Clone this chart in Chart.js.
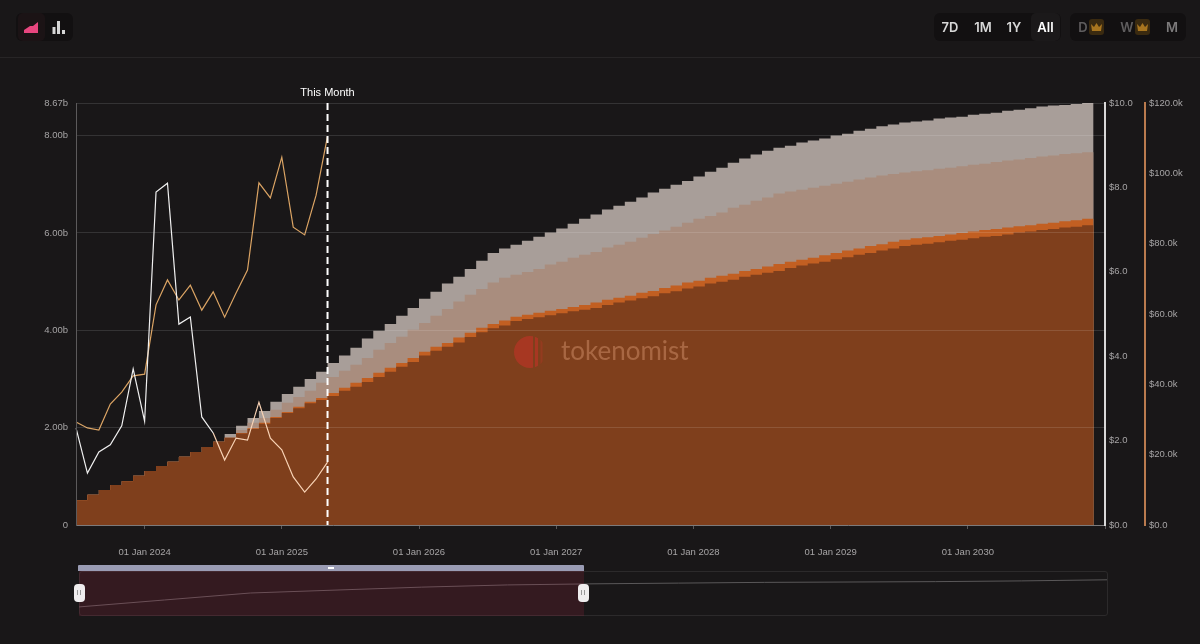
<!DOCTYPE html>
<html>
<head>
<meta charset="utf-8">
<title>Token unlocks</title>
<script src="https://cdn.jsdelivr.net/npm/chart.js@4"></script>
<style>
    html, body { margin: 0; padding: 0; background: #191718; overflow: hidden; }
    body { width: 1200px; height: 644px; position: relative; font-family: "Inter", sans-serif; }
    canvas { position: absolute; display: block; }
    #myChart { left: 0; top: 0; }
    #overview { left: 79px; top: 571px; }
    .divider { position: absolute; left: 0; top: 57px; width: 1200px; height: 1px; background: #272526; }
    .group { position: absolute; top: 13px; height: 28px; background: #121011; border-radius: 6px; }
    .btn { position: absolute; top: 0; height: 28px; line-height: 28px; text-align: center; font-size: 13px; font-weight: 600; color: #d8d8d8; }
    .btn.active { background: #1b191a; border-radius: 5px; color: #fff; }
    .btn.muted { color: #5f5d5e; }
    .crown { position: absolute; top: 6px; width: 15px; height: 16px; background: #3a2a10; border-radius: 3px; }
    .frame { position: absolute; left: 79px; top: 571px; width: 1027px; height: 43px; border: 1px solid #2c2a2b; border-radius: 3px; }
    .selection { position: absolute; left: 79px; top: 571px; width: 505px; height: 45px; background: rgba(190, 40, 80, 0.17); }
    .bar { position: absolute; left: 78px; top: 565px; width: 506px; height: 6px; background: #9a9cb4; border-radius: 1px 1px 0 0; }
    .grip { position: absolute; left: 328px; top: 567px; width: 6px; height: 2px; background: #fff; }
    .handle { position: absolute; top: 584px; width: 11px; height: 18px; background: #efedee; border-radius: 4px; }
    .handle::after { content: ""; position: absolute; left: 3px; top: 6px; width: 1px; height: 5px; background: #999; box-shadow: 3px 0 0 #999; }
</style>
</head>
<body>
<canvas id="myChart" width="1200" height="644"></canvas>
<div class="divider"></div>

<div class="group" style="left:16px;width:57px;">
    <div class="btn active" style="left:2px;width:27px;background:#1b1315;">
        <svg width="17" height="14" viewBox="0 0 17 14" style="position:absolute;left:5px;top:8px;">
            <path d="M1 9 L7 5 L10 5 L15 1 L15 12 L1 12 Z" fill="#e8467f"/>
        </svg>
    </div>
    <svg width="14" height="14" viewBox="0 0 14 14" style="position:absolute;left:36px;top:7px;">
        <rect x="0.5" y="7" width="3" height="7" fill="#d6d6d6"/>
        <rect x="5" y="1" width="3" height="13" fill="#d6d6d6"/>
        <rect x="10" y="10" width="3" height="4" fill="#d6d6d6"/>
    </svg>
</div>

<div class="group" style="left:934px;width:127px;">
    <div class="btn" style="left:1px;width:30px;">7D</div>
    <div class="btn" style="left:34px;width:30px;">1M</div>
    <div class="btn" style="left:65px;width:30px;">1Y</div>
    <div class="btn active" style="left:97px;width:29px;">All</div>
</div>

<div class="group" style="left:1070px;width:116px;">
    <div class="btn muted" style="left:6px;width:14px;">D</div>
    <div class="crown" style="left:19px;">
        <svg width="15" height="16" viewBox="0 0 15 16"><path d="M3 12 L2 5 L5 8 L7.5 4 L10 8 L13 5 L12 12 Z" fill="#a8751f"/></svg>
    </div>
    <div class="btn muted" style="left:49px;width:16px;">W</div>
    <div class="crown" style="left:65px;">
        <svg width="15" height="16" viewBox="0 0 15 16"><path d="M3 12 L2 5 L5 8 L7.5 4 L10 8 L13 5 L12 12 Z" fill="#a8751f"/></svg>
    </div>
    <div class="btn" style="left:94px;width:16px;color:#7c7a7b;">M</div>
</div>

<div class="frame"></div>
<canvas id="overview" width="1028" height="44"></canvas>
<div class="selection"></div>
<div class="bar"></div>
<div class="grip"></div>
<div class="handle" style="left:74px;"></div>
<div class="handle" style="left:578px;"></div>

<script>
// monthly labels, Jul 2023 to Jan 2031 (the last one only closes the final step)
const monthLabels = [];
for (let m = 6; m <= 96; m++) {
    monthLabels.push((2023 + Math.floor(m / 12)) + '-' + String(m % 12 + 1).padStart(2, '0'));
}

// cumulative unlocked supply, billions of tokens, one list per band top
const baseBand = [
    0.51, 0.62, 0.72, 0.82, 0.90, 1.01, 1.11, 1.21, 1.30, 1.40, 1.50, 1.60, 1.71, 1.79, 1.88, 1.97, 2.08, 2.20,
    2.30, 2.40, 2.50, 2.57, 2.65, 2.76, 2.84, 2.94, 3.04, 3.15, 3.25, 3.35, 3.48, 3.58, 3.66, 3.75, 3.86, 3.96,
    4.04, 4.10, 4.19, 4.23, 4.27, 4.31, 4.35, 4.39, 4.42, 4.46, 4.52, 4.57, 4.61, 4.66, 4.70, 4.76, 4.80, 4.86,
    4.90, 4.96, 5.00, 5.04, 5.10, 5.14, 5.18, 5.22, 5.28, 5.33, 5.37, 5.41, 5.46, 5.50, 5.55, 5.59, 5.64, 5.68,
    5.73, 5.76, 5.78, 5.81, 5.84, 5.86, 5.89, 5.92, 5.94, 5.97, 6.01, 6.03, 6.06, 6.08, 6.11, 6.13, 6.16, 6.16
];
const thinBand = [
    0.51, 0.62, 0.72, 0.82, 0.90, 1.01, 1.11, 1.21, 1.30, 1.40, 1.50, 1.60, 1.71, 1.79, 1.89, 1.99, 2.10, 2.22,
    2.32, 2.43, 2.53, 2.61, 2.71, 2.82, 2.92, 3.02, 3.13, 3.23, 3.33, 3.43, 3.56, 3.66, 3.74, 3.85, 3.95, 4.05,
    4.13, 4.20, 4.28, 4.32, 4.36, 4.40, 4.44, 4.48, 4.52, 4.57, 4.63, 4.67, 4.71, 4.77, 4.81, 4.87, 4.92, 4.98,
    5.02, 5.08, 5.12, 5.16, 5.22, 5.26, 5.31, 5.36, 5.41, 5.45, 5.49, 5.54, 5.59, 5.64, 5.68, 5.73, 5.77, 5.82,
    5.86, 5.89, 5.91, 5.94, 5.97, 6.00, 6.03, 6.06, 6.08, 6.11, 6.14, 6.16, 6.19, 6.21, 6.24, 6.26, 6.29, 6.29
];
const midBand = [
    0.51, 0.62, 0.72, 0.82, 0.90, 1.01, 1.11, 1.21, 1.30, 1.40, 1.50, 1.60, 1.71, 1.79, 1.95, 2.10, 2.20, 2.37,
    2.51, 2.63, 2.76, 2.92, 3.04, 3.17, 3.29, 3.43, 3.60, 3.74, 3.87, 4.01, 4.15, 4.30, 4.44, 4.59, 4.73, 4.85,
    4.98, 5.08, 5.14, 5.20, 5.26, 5.35, 5.41, 5.49, 5.55, 5.61, 5.70, 5.76, 5.82, 5.90, 5.98, 6.05, 6.13, 6.21,
    6.29, 6.35, 6.42, 6.52, 6.58, 6.66, 6.73, 6.81, 6.85, 6.89, 6.93, 6.97, 7.01, 7.05, 7.10, 7.14, 7.18, 7.21,
    7.24, 7.27, 7.29, 7.32, 7.34, 7.37, 7.40, 7.42, 7.46, 7.49, 7.51, 7.54, 7.57, 7.59, 7.62, 7.64, 7.66, 7.66
];
const topBand = [
    0.51, 0.62, 0.72, 0.82, 0.90, 1.01, 1.11, 1.21, 1.30, 1.40, 1.50, 1.60, 1.71, 1.87, 2.04, 2.20, 2.34, 2.53,
    2.69, 2.84, 3.00, 3.15, 3.33, 3.48, 3.64, 3.83, 3.99, 4.13, 4.30, 4.46, 4.65, 4.79, 4.96, 5.10, 5.26, 5.43,
    5.59, 5.68, 5.76, 5.84, 5.92, 6.01, 6.09, 6.19, 6.29, 6.38, 6.48, 6.56, 6.64, 6.73, 6.83, 6.91, 6.99, 7.07,
    7.16, 7.26, 7.34, 7.44, 7.53, 7.61, 7.69, 7.75, 7.79, 7.86, 7.90, 7.94, 8.00, 8.04, 8.10, 8.14, 8.19, 8.23,
    8.27, 8.29, 8.31, 8.35, 8.37, 8.39, 8.43, 8.45, 8.47, 8.51, 8.53, 8.56, 8.60, 8.62, 8.63, 8.65, 8.67, 8.67
];

// token price in dollars and reference price in thousands of dollars, up to this month
const tokenPrice = [
    2.30, 1.23, 1.73, 1.90, 2.35, 3.70, 2.46, 7.89, 8.10, 4.76, 4.93, 2.56,
    2.18, 1.54, 2.06, 2.01, 2.91, 2.06, 1.78, 1.14, 0.78, 1.09, 1.49
];
const referencePrice = [
    29.3, 27.6, 27.0, 34.4, 37.8, 42.4, 42.9, 62.6, 69.7, 64.0, 68.2, 61.1,
    66.3, 59.1, 66.0, 72.5, 97.3, 93.0, 104.6, 84.7, 82.5, 93.8, 110.6
];

// long range curve in the strip under the chart
const overviewValues = [2.2, 4.1, 6.0, 6.8, 7.6, 8.2, 8.5, 8.7, 8.9, 9.0, 9.1, 9.3, 9.6];

const supplyTicks = [0, 2, 4, 6, 8, 8.67];
const tokenTicks = [0, 2, 4, 6, 8, 10];
const referenceTicks = [0, 20, 40, 60, 80, 100, 120];
const currentMonth = '2025-05';

const labelFont = { family: '"Liberation Sans", Arial, sans-serif', size: 9.5 };

// fixed tick lists and fixed axis widths so the plot stays where it should
function yAxis(position, max, tickValues, width, padding, format, border, grid) {
    return {
        position: position,
        min: 0,
        max: max,
        border: border,
        grid: grid || { display: false, drawTicks: false },
        afterBuildTicks: axis => { axis.ticks = tickValues.map(v => ({ value: v })); },
        afterFit: axis => { axis.width = width; },
        ticks: { autoSkip: false, font: labelFont, color: '#a6a4a5', padding: padding, callback: format }
    };
}

const markerPlugin = {
    id: 'markerPlugin',
    afterDatasetsDraw(chart) {
        const ctx = chart.ctx;
        const area = chart.chartArea;
        const x = chart.scales.x.getPixelForValue(monthLabels.indexOf(currentMonth));

        // watermark
        ctx.save();
        ctx.beginPath();
        ctx.arc(530, 352, 16, 0, Math.PI * 2);
        ctx.clip();
        ctx.fillStyle = 'rgba(200, 50, 40, 0.55)';
        ctx.fillRect(514, 336, 19, 32);
        ctx.fillRect(535, 336, 3, 32);
        ctx.fillStyle = 'rgba(200, 50, 40, 0.3)';
        ctx.fillRect(540.5, 336, 2, 32);
        ctx.restore();

        ctx.save();
        ctx.font = '26px Lato, sans-serif';
        ctx.fillStyle = 'rgba(255, 190, 150, 0.32)';
        ctx.textBaseline = 'middle';
        ctx.textAlign = 'left';
        ctx.fillText('tokenomist', 561, 352);
        ctx.restore();

        // this month marker
        ctx.save();
        ctx.strokeStyle = '#ffffff';
        ctx.lineWidth = 2;
        ctx.setLineDash([7, 4]);
        ctx.beginPath();
        ctx.moveTo(x, area.top);
        ctx.lineTo(x, area.bottom);
        ctx.stroke();
        ctx.setLineDash([]);
        ctx.fillStyle = '#ffffff';
        ctx.font = '11px "Liberation Sans", Arial, sans-serif';
        ctx.textAlign = 'center';
        ctx.textBaseline = 'middle';
        ctx.fillText('This Month', x, 92.5);
        ctx.restore();
    }
};

// every band fills down to zero; the filler paints the top one first, so no seams show
function band(data, color) {
    return {
        type: 'line',
        data: data,
        yAxisID: 'y',
        stepped: true,
        fill: 'origin',
        backgroundColor: color,
        borderWidth: 0,
        pointRadius: 0,
        order: 1
    };
}

function priceLine(data, color, axisId, segment) {
    return {
        type: 'line',
        data: data,
        yAxisID: axisId,
        borderColor: color,
        borderWidth: 1.2,
        pointRadius: 0,
        tension: 0,
        fill: false,
        order: 0,
        segment: segment || {}
    };
}

// the token line turns peach where it runs over the filled bands
function tokenSegmentColor(seg) {
    const yScale = seg.chart.scales.y;
    const topY = (yScale.getPixelForValue(topBand[seg.p0DataIndex]) + yScale.getPixelForValue(topBand[seg.p1DataIndex])) / 2;
    return (seg.p0.y + seg.p1.y) / 2 > topY ? '#f8d2b4' : undefined;
}

function createCharts() {
    const ctx = document.getElementById('myChart').getContext('2d');

    new Chart(ctx, {
        type: 'line',
        data: {
            labels: monthLabels,
            datasets: [
                band(baseBand, '#7f3f1c'),
                band(thinBand, '#c25f22'),
                band(midBand, '#a98d7e'),
                band(topBand, '#a89e99'),
                priceLine(tokenPrice, '#f0f0f0', 'yToken', { borderColor: tokenSegmentColor }),
                priceLine(referencePrice, '#dba464', 'yReference')
            ]
        },
        options: {
            responsive: false,
            animation: false,
            events: [],
            layout: { padding: { top: 103, bottom: 78, left: 0, right: 0 } },
            plugins: {
                legend: { display: false },
                tooltip: { enabled: false }
            },
            scales: {
                x: {
                    type: 'category',
                    offset: false,
                    border: { color: '#6a6869', width: 1 },
                    grid: {
                        drawOnChartArea: false,
                        drawTicks: true,
                        tickLength: 4,
                        tickColor: ctx => monthLabels[ctx.index] && monthLabels[ctx.index].endsWith('-01') ? '#5a5859' : 'transparent'
                    },
                    afterFit: axis => { axis.height = 41; },
                    ticks: {
                        autoSkip: false,
                        maxRotation: 0,
                        minRotation: 0,
                        padding: 18,
                        font: labelFont,
                        color: '#a6a4a5',
                        callback: function (value) {
                            const label = monthLabels[value];
                            if (label.endsWith('-01') && label < '2031') {
                                return '01 Jan ' + label.slice(0, 4);
                            }
                            return '';
                        }
                    }
                },
                // grid sits above the fills so it shows faintly through them; border has to share its layer
                y: yAxis('left', 8.67, supplyTicks, 76, 8, v => (v === 0 ? '0' : v.toFixed(2) + 'b'),
                    { color: '#5c5a5b', width: 1, z: 1 },
                    { color: 'rgba(255, 255, 255, 0.12)', lineWidth: 1, drawTicks: false, z: 1 }),
                yToken: yAxis('right', 10, tokenTicks, 40, 4, v => '$' + v.toFixed(1),
                    { color: '#d8d8d8', width: 2 }),
                yReference: yAxis('right', 120, referenceTicks, 55, 4, v => (v === 0 ? '$0.0' : '$' + v.toFixed(1) + 'k'),
                    { color: '#b97a4e', width: 2 })
            }
        },
        plugins: [markerPlugin]
    });

    new Chart(document.getElementById('overview').getContext('2d'), {
        type: 'line',
        data: {
            labels: overviewValues.map((v, i) => i),
            datasets: [{
                data: overviewValues,
                borderColor: '#5a5859',
                borderWidth: 1,
                pointRadius: 0,
                fill: false
            }]
        },
        options: {
            responsive: false,
            animation: false,
            events: [],
            plugins: { legend: { display: false }, tooltip: { enabled: false } },
            scales: {
                x: { display: false, offset: false },
                y: { display: false, min: 0, max: 12 }
            }
        }
    });
}

document.addEventListener('DOMContentLoaded', createCharts);
</script>
</body>
</html>
